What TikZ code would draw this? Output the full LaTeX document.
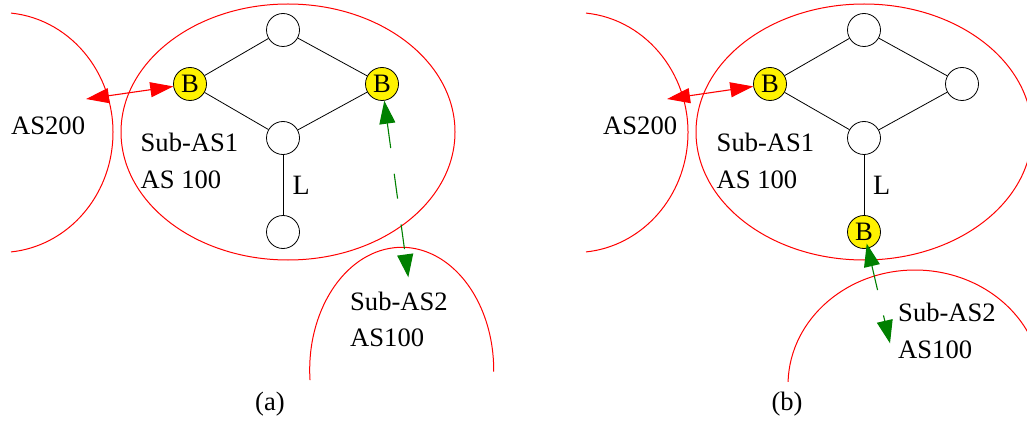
\documentclass[tikz,border=0pt]{standalone}
\usepackage{fontspec}
\setmainfont{Liberation Serif}
\usetikzlibrary{arrows.meta}
\definecolor{asred}{RGB}{255,0,0}
\definecolor{asgreen}{RGB}{0,128,0}
\begin{document}
\begin{tikzpicture}[x=1pt,y=1pt,
  router/.style={circle, draw=black, line width=0.8pt, minimum size=33pt, inner sep=0pt, fill=white, font=\fontsize{26.6}{30}\selectfont},
  bnode/.style={router, fill=yellow},
  linkline/.style={draw=black, line width=0.8pt},
  asline/.style={draw=asred, line width=1pt},
  lbl/.style={anchor=base west, inner sep=0pt, font=\fontsize{26.6}{30}\selectfont},
  captext/.style={anchor=base, inner sep=0pt, font=\fontsize{26.6}{30}\selectfont},
  peer/.style={draw=asred, line width=1.1pt, {Triangle[length=23pt,width=15pt]}-{Triangle[length=23pt,width=15pt]}},
  ibgp/.style={draw=asgreen, line width=1.1pt, dash pattern=on 25pt off 26pt, {Triangle[length=23pt,width=16pt]}-{Triangle[length=23pt,width=16pt]}}
]
\useasboundingbox (0,0) rectangle (1027,421);

% ---------------- panel (a) ----------------
\draw[asline] (288,289) ellipse [x radius=167, y radius=128];
\draw[asline] (0,288.5) ++(84.4:113 and 120) arc [start angle=84.4, end angle=-84.4, x radius=113, y radius=120];
\draw[asline] (401.7,51) ++(184.7:92 and 122.7) arc [start angle=184.7, end angle=-0.8, x radius=92, y radius=122.7];

\node[router] (Ta) at (283,391) {};
\node[bnode] (Bla) at (190,337) {B};
\node[bnode] (Bra) at (382,337) {B};
\node[router] (Ma) at (283,283) {};
\node[router] (Boa) at (283,189) {};

\draw[linkline] (Ta) -- (Bla);
\draw[linkline] (Ta) -- (Bra);
\draw[linkline] (Bla) -- (Ma);
\draw[linkline] (Bra) -- (Ma);
\draw[linkline] (Ma) -- (Boa);

\coordinate (ra) at (86,322);
\coordinate (ga) at (408.3,143.7);
\draw[peer] (ra) -- (Bla);
\draw[ibgp] (Bra) -- (ga);

\node[lbl] (as200a) at (11,286) {AS200};
\node[lbl] (sub1a) at (140.5,269.3) {Sub-AS1};
\node[lbl] (as100a) at (140.5,232.7) {AS 100};
\node[lbl, font=\fontsize{28}{30}\selectfont] (La) at (292.5,226.7) {L};
\node[lbl] (sub2a) at (350,111) {Sub-AS2};
\node[lbl] (as2a) at (350,74.3) {AS100};
\node[captext] (capa) at (270,11) {(a)};

% ---------------- panel (b) ----------------
\draw[asline] (864,289) ellipse [x radius=168, y radius=128];
\draw[asline] (575,288.5) ++(84.4:113 and 120) arc [start angle=84.4, end angle=-84.4, x radius=113, y radius=120];
\draw[asline] (915,36) ++(178.4:127 and 115) arc [start angle=178.4, end angle=27, x radius=127, y radius=115];

\node[router] (Tb) at (864,391) {};
\node[bnode] (Blb) at (770,337) {B};
\node[router] (Rb) at (962,337) {};
\node[router] (Mb) at (864,283) {};
\node[bnode] (Bob) at (864,189) {B};

\draw[linkline] (Tb) -- (Blb);
\draw[linkline] (Tb) -- (Rb);
\draw[linkline] (Blb) -- (Mb);
\draw[linkline] (Rb) -- (Mb);
\draw[linkline] (Mb) -- (Bob);

\coordinate (rb) at (667,322);
\coordinate (gb) at (890,77.7);
\draw[peer] (rb) -- (Blb);
\draw[ibgp, shorten <=-5pt] (Bob) -- (gb);

\node[lbl] (as200b) at (603,286) {AS200};
\node[lbl] (sub1b) at (716.5,269.3) {Sub-AS1};
\node[lbl] (as100b) at (716.5,232.7) {AS 100};
\node[lbl, font=\fontsize{28}{30}\selectfont] (Lb) at (873,226.7) {L};
\node[lbl] (sub2b) at (898,99.3) {Sub-AS2};
\node[lbl] (as2b) at (898,62.7) {AS100};
\node[captext] (capb) at (787,11) {(b)};
\end{tikzpicture}
\end{document}
